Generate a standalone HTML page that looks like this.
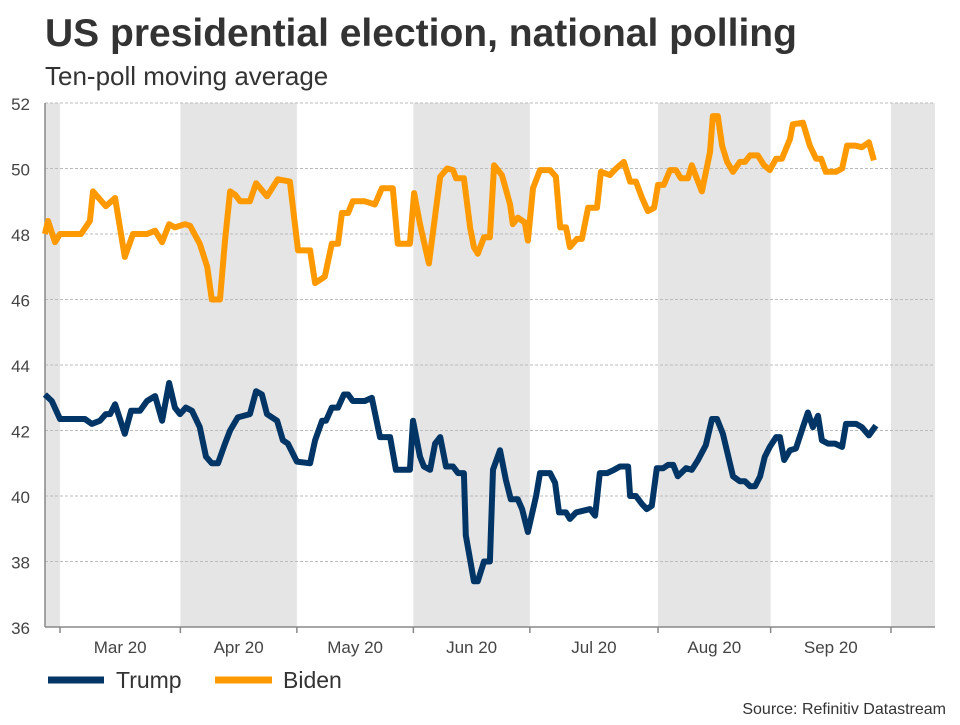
<!DOCTYPE html>
<html><head><meta charset="utf-8"><style>
body{margin:0;background:#fff;font-family:"Liberation Sans",Arial,sans-serif;}
svg text{font-family:"Liberation Sans",Arial,sans-serif;}
</style></head><body>
<svg id="chart" width="960" height="720" viewBox="0 0 960 720" xmlns="http://www.w3.org/2000/svg">
<text x="45" y="46" font-size="39" font-weight="bold" fill="#333">US presidential election, national polling</text>
<text x="45" y="85" font-size="26" fill="#333">Ten-poll moving average</text>
<g id="bands"></g><g id="grid"></g><g id="axes"></g><g id="series"></g>
<g>
<line x1="48" y1="680" x2="104" y2="680" stroke="#003566" stroke-width="7"/>
<text x="116" y="688" font-size="23" fill="#333">Trump</text>
<line x1="215" y1="680" x2="272" y2="680" stroke="#ff9900" stroke-width="7"/>
<text x="283" y="688" font-size="23" fill="#333">Biden</text>
</g>
<text x="946" y="714" font-size="16" fill="#333" text-anchor="end">Source: Refinitiv Datastream</text>
</svg>
<script>
const yTicks=[36,38,40,42,44,46,48,50,52];
const monthLabels=["Mar 20","Apr 20","May 20","Jun 20","Jul 20","Aug 20","Sep 20"];
const monthStarts=[0,31,61,91,121,154,183,214];
const trumpDays=[-3.9,-2.1,0,6.4,8.2,10.3,11.8,12.9,14.2,16.7,18.3,20.6,22.4,24.5,26.3,28.1,29.6,30.9,32.4,34.0,36.0,37.6,39.1,40.7,42.5,43.8,45.8,48.9,50.5,52.0,53.3,55.9,57.4,58.7,61.0,64.4,65.7,67.5,68.5,70.0,71.6,73.1,74.2,75.4,78.5,80.3,82.4,85.0,86.5,90.1,90.9,92.7,93.7,95.3,96.6,97.9,99.4,101.2,102.5,104.0,104.5,106.6,107.6,109.2,110.7,111.5,113.3,114.8,116.1,117.9,119.0,120.5,122.6,123.6,126.2,127.5,128.5,130.3,131.3,132.9,136.5,137.8,139.0,140.9,142.7,144.2,146.3,146.8,148.3,149.9,151.1,152.4,153.7,155.3,156.6,157.9,159.1,161.2,162.7,164.3,166.3,167.9,169.2,170.7,173.3,175.1,176.4,177.7,179.0,180.3,181.5,182.8,184.4,185.4,186.5,188.0,189.5,191.3,192.6,193.9,195.2,196.2,197.8,199.6,201.4,202.4,205.0,206.5,208.3,210.1];
const trumpVals=[43.1,42.9,42.35,42.35,42.2,42.3,42.5,42.5,42.8,41.9,42.6,42.6,42.9,43.05,42.3,43.45,42.7,42.5,42.7,42.6,42.1,41.2,41.0,41.0,41.6,42.0,42.4,42.5,43.2,43.1,42.5,42.3,41.7,41.6,41.05,41.0,41.7,42.3,42.3,42.7,42.7,43.1,43.1,42.9,42.9,43.0,41.8,41.8,40.8,40.8,42.3,41.2,40.9,40.8,41.6,41.8,40.9,40.9,40.7,40.7,38.8,37.4,37.4,38.0,38.0,40.8,41.4,40.5,39.9,39.9,39.6,38.9,40.0,40.7,40.7,40.4,39.5,39.5,39.3,39.5,39.6,39.4,40.7,40.7,40.8,40.9,40.9,40.0,40.0,39.75,39.6,39.7,40.85,40.85,40.95,40.95,40.6,40.85,40.8,41.1,41.55,42.35,42.35,41.9,40.6,40.45,40.45,40.3,40.3,40.6,41.2,41.5,41.8,41.8,41.1,41.4,41.45,42.1,42.55,42.1,42.45,41.7,41.6,41.6,41.5,42.2,42.2,42.1,41.85,42.15];
const bidenDays=[-3.9,-3.1,-1.3,0,5.4,7.7,8.5,11.8,14.2,16.7,18.8,22.4,24.5,26.3,28.1,29.6,32.2,33.5,36.0,37.9,39.1,41.2,42.5,43.8,45.1,46.4,48.9,50.5,53.3,56.1,59.2,61.3,64.4,65.7,68.2,70.0,71.6,72.6,74.2,75.4,78.5,81.1,82.9,85.7,87.0,90.1,91.2,92.7,95.0,97.9,99.7,101.2,102.0,104.0,105.6,106.6,107.6,109.2,110.7,111.8,113.8,115.9,116.6,117.9,119.7,120.5,121.8,123.6,126.2,127.7,128.8,130.3,131.3,133.1,134.4,136.0,138.3,139.3,141.6,143.2,145.2,146.8,148.3,149.9,151.4,153.0,154.0,155.5,157.1,158.6,159.9,161.7,162.7,164.3,165.3,167.4,168.1,169.4,170.5,171.8,173.3,175.1,176.4,177.7,179.7,181.3,182.8,184.4,185.9,188.0,188.7,191.3,193.1,194.7,196.0,197.2,199.8,201.4,202.7,204.7,206.5,208.3,209.6];
const bidenVals=[48.0,48.4,47.75,48.0,48.0,48.4,49.3,48.85,49.1,47.3,48.0,48.0,48.1,47.75,48.3,48.2,48.3,48.25,47.7,47.0,46.0,46.0,47.8,49.3,49.2,49.0,49.0,49.55,49.15,49.67,49.6,47.5,47.5,46.5,46.7,47.7,47.7,48.64,48.64,49.0,49.0,48.9,49.4,49.4,47.7,47.7,49.25,48.3,47.1,49.75,50.0,49.95,49.7,49.7,48.2,47.6,47.4,47.9,47.9,50.1,49.8,48.9,48.3,48.5,48.35,47.8,49.4,49.95,49.95,49.75,48.2,48.2,47.6,47.85,47.85,48.8,48.8,49.9,49.8,50.0,50.2,49.6,49.6,49.1,48.7,48.8,49.5,49.5,49.95,49.95,49.7,49.7,50.1,49.6,49.3,50.5,51.6,51.6,50.7,50.2,49.9,50.2,50.2,50.4,50.4,50.1,49.95,50.3,50.3,50.9,51.35,51.4,50.7,50.3,50.3,49.9,49.9,50.0,50.7,50.7,50.65,50.8,50.25];

const NS="http://www.w3.org/2000/svg";
const L=45,R=935,T=103,B=627;
const x0=60,pxPerDay=831/214;
function xs(d){return x0+d*pxPerDay;}
function ys(v){return B-(v-36)/(52-36)*(B-T);}
function mk(tag,attrs,parent){const e=document.createElementNS(NS,tag);for(const k in attrs)e.setAttribute(k,attrs[k]);parent.appendChild(e);return e;}
const bands=document.getElementById('bands'),grid=document.getElementById('grid'),axes=document.getElementById('axes'),series=document.getElementById('series');
const shadeRanges=[[L,xs(monthStarts[0])],[xs(monthStarts[1]),xs(monthStarts[2])],[xs(monthStarts[3]),xs(monthStarts[4])],[xs(monthStarts[5]),xs(monthStarts[6])],[xs(monthStarts[7]),R]];
shadeRanges.forEach(r=>{
 const b=mk('rect',{x:r[0],y:T,width:r[1]-r[0],height:B-T,fill:'#e5e5e5'},bands);
 
 
});
yTicks.forEach(v=>{
 const g=mk('line',{x1:L,x2:R,y1:ys(v),y2:ys(v),stroke:'#bbb','stroke-dasharray':'3,2','stroke-width':1},grid);
 
 
 const t=mk('text',{x:30,y:ys(v)+7,'font-size':17,fill:'#444','text-anchor':'end'},axes);
 t.textContent=v;
 
 
});
const ya=mk('line',{x1:L,x2:L,y1:T,y2:B,stroke:'#888','stroke-width':1.5},axes);


const xa=mk('line',{x1:L,x2:R,y1:B,y2:B,stroke:'#888','stroke-width':1.5},axes);


monthStarts.forEach(d=>{
 const tk=mk('line',{x1:xs(d),x2:xs(d),y1:B,y2:B+6,stroke:'#888','stroke-width':1.5},axes);
 
 
});
monthLabels.forEach((m,i)=>{
 const t=mk('text',{x:(xs(monthStarts[i])+xs(monthStarts[i+1]))/2,y:653,'font-size':17,fill:'#444','text-anchor':'middle'},axes);
 t.textContent=m;
 
 
});
function line(days,vals,color,name){
 const d=days.map((dd,i)=>(i?'L':'M')+xs(dd).toFixed(1)+','+ys(vals[i]).toFixed(1)).join(' ');
 const p=mk('path',{d:d,fill:'none',stroke:color,'stroke-width':6,'stroke-linejoin':'round'},series);
 
 
}
line(bidenDays,bidenVals,'#ff9900','biden-line');
line(trumpDays,trumpVals,'#003566','trump-line');
</script>
</body></html>
